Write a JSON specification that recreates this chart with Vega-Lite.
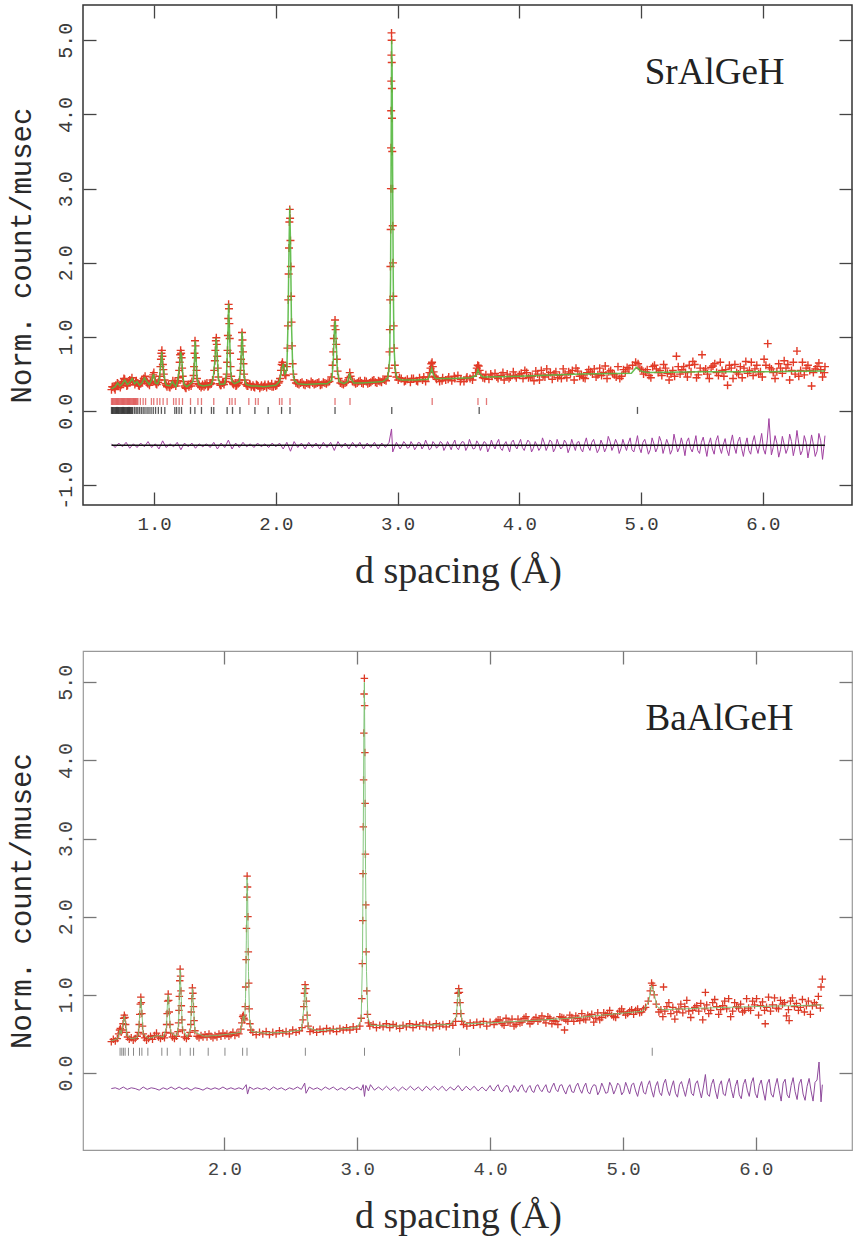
{
"$schema": "https://vega.github.io/schema/vega-lite/v6.json",
"autosize": {"type": "pad"},
"padding": {"left": 6, "top": 3, "right": 2, "bottom": 5},
"background": "white",
"bounds": "flush",
"spacing": 146,
"config": {
  "axis": {"grid": false, "domain": false, "labelFont": "Liberation Mono", "labelFontSize": 19, "labelColor": "#3a3a3a", "tickColor": "#444", "tickWidth": 1.3, "titleFontWeight": "normal", "titleColor": "#2a2a2a", "labelFlush": false, "labelOverlap": false}
},
"datasets": {
"so": [
{"d":0.650,"y":0.29},{"d":0.662,"y":0.33},{"d":0.674,"y":0.31},{"d":0.686,"y":0.35},{"d":0.698,"y":0.38},{"d":0.710,"y":0.34},{"d":0.722,"y":0.32},{"d":0.734,"y":0.37},{"d":0.746,"y":0.40},{"d":0.758,"y":0.43},{"d":0.770,"y":0.38},{"d":0.782,"y":0.35},{"d":0.794,"y":0.39},{"d":0.806,"y":0.41},{"d":0.818,"y":0.45},{"d":0.830,"y":0.40},{"d":0.842,"y":0.36},{"d":0.854,"y":0.41},{"d":0.866,"y":0.38},{"d":0.878,"y":0.34},{"d":0.890,"y":0.37},{"d":0.902,"y":0.40},{"d":0.914,"y":0.44},{"d":0.926,"y":0.47},{"d":0.938,"y":0.41},{"d":0.950,"y":0.37},{"d":0.962,"y":0.35},{"d":0.974,"y":0.40},{"d":0.986,"y":0.46},{"d":0.998,"y":0.52},{"d":1.010,"y":0.40},{"d":1.022,"y":0.36},{"d":1.034,"y":0.39},{"d":1.046,"y":0.47},
{"d":1.052,"y":0.60},{"d":1.056,"y":0.70},{"d":1.060,"y":0.78},{"d":1.064,"y":0.82},{"d":1.068,"y":0.74},{"d":1.072,"y":0.63},{"d":1.076,"y":0.56},{"d":1.080,"y":0.50},{"d":1.086,"y":0.42},
{"d":1.094,"y":0.37},{"d":1.106,"y":0.33},{"d":1.118,"y":0.36},{"d":1.130,"y":0.32},{"d":1.142,"y":0.35},{"d":1.154,"y":0.41},{"d":1.166,"y":0.37},{"d":1.178,"y":0.34},{"d":1.190,"y":0.38},{"d":1.200,"y":0.45},
{"d":1.206,"y":0.55},{"d":1.210,"y":0.66},{"d":1.214,"y":0.76},{"d":1.218,"y":0.82},{"d":1.222,"y":0.78},{"d":1.226,"y":0.72},{"d":1.230,"y":0.58},{"d":1.235,"y":0.47},{"d":1.240,"y":0.40},
{"d":1.250,"y":0.34},{"d":1.262,"y":0.31},{"d":1.274,"y":0.35},{"d":1.286,"y":0.33},{"d":1.298,"y":0.37},{"d":1.310,"y":0.40},
{"d":1.324,"y":0.48},{"d":1.328,"y":0.60},{"d":1.332,"y":0.78},{"d":1.336,"y":0.95},{"d":1.340,"y":0.88},{"d":1.344,"y":0.72},{"d":1.348,"y":0.55},{"d":1.352,"y":0.44},
{"d":1.362,"y":0.37},{"d":1.374,"y":0.34},{"d":1.386,"y":0.32},{"d":1.398,"y":0.36},{"d":1.410,"y":0.33},{"d":1.422,"y":0.35},{"d":1.434,"y":0.38},{"d":1.446,"y":0.34},{"d":1.458,"y":0.36},{"d":1.470,"y":0.37},{"d":1.480,"y":0.42},
{"d":1.494,"y":0.55},{"d":1.499,"y":0.68},{"d":1.503,"y":0.82},{"d":1.507,"y":0.95},{"d":1.511,"y":0.99},{"d":1.515,"y":0.90},{"d":1.519,"y":0.74},{"d":1.523,"y":0.58},{"d":1.528,"y":0.46},
{"d":1.538,"y":0.37},{"d":1.550,"y":0.35},{"d":1.562,"y":0.38},{"d":1.574,"y":0.36},{"d":1.586,"y":0.40},{"d":1.596,"y":0.50},
{"d":1.600,"y":0.66},{"d":1.603,"y":0.82},{"d":1.606,"y":1.02},{"d":1.609,"y":1.25},{"d":1.612,"y":1.44},{"d":1.615,"y":1.38},{"d":1.618,"y":1.18},{"d":1.621,"y":0.98},{"d":1.624,"y":0.78},{"d":1.628,"y":0.60},{"d":1.633,"y":0.47},
{"d":1.642,"y":0.39},{"d":1.654,"y":0.36},{"d":1.666,"y":0.38},{"d":1.678,"y":0.35},{"d":1.690,"y":0.37},{"d":1.702,"y":0.42},
{"d":1.710,"y":0.55},{"d":1.714,"y":0.70},{"d":1.718,"y":0.88},{"d":1.722,"y":1.06},{"d":1.726,"y":0.96},{"d":1.730,"y":0.80},{"d":1.734,"y":0.64},{"d":1.739,"y":0.50},{"d":1.745,"y":0.42},
{"d":1.756,"y":0.36},{"d":1.770,"y":0.34},{"d":1.784,"y":0.37},{"d":1.798,"y":0.33},{"d":1.812,"y":0.35},{"d":1.826,"y":0.32},{"d":1.840,"y":0.36},{"d":1.854,"y":0.34},{"d":1.868,"y":0.31},{"d":1.882,"y":0.35},{"d":1.896,"y":0.33},{"d":1.910,"y":0.36},{"d":1.924,"y":0.32},{"d":1.938,"y":0.35},{"d":1.952,"y":0.34},{"d":1.966,"y":0.37},{"d":1.980,"y":0.33},{"d":1.994,"y":0.36},{"d":2.008,"y":0.35},{"d":2.022,"y":0.38},{"d":2.034,"y":0.44},
{"d":2.042,"y":0.55},{"d":2.048,"y":0.63},{"d":2.054,"y":0.66},{"d":2.060,"y":0.62},{"d":2.066,"y":0.55},{"d":2.074,"y":0.49},{"d":2.082,"y":0.48},{"d":2.090,"y":0.60},
{"d":2.095,"y":0.85},{"d":2.099,"y":1.15},{"d":2.102,"y":1.50},{"d":2.105,"y":1.85},{"d":2.108,"y":2.20},{"d":2.111,"y":2.55},{"d":2.114,"y":2.72},{"d":2.117,"y":2.60},{"d":2.120,"y":2.30},{"d":2.123,"y":1.95},{"d":2.126,"y":1.55},{"d":2.129,"y":1.20},{"d":2.133,"y":0.88},{"d":2.138,"y":0.64},{"d":2.144,"y":0.50},{"d":2.152,"y":0.42},
{"d":2.165,"y":0.38},{"d":2.190,"y":0.36},{"d":2.215,"y":0.39},{"d":2.240,"y":0.35},{"d":2.265,"y":0.37},{"d":2.290,"y":0.40},{"d":2.315,"y":0.36},{"d":2.340,"y":0.38},{"d":2.365,"y":0.35},{"d":2.390,"y":0.39},{"d":2.415,"y":0.37},{"d":2.440,"y":0.40},{"d":2.455,"y":0.46},
{"d":2.465,"y":0.62},{"d":2.471,"y":0.80},{"d":2.476,"y":0.98},{"d":2.481,"y":1.15},{"d":2.486,"y":1.23},{"d":2.491,"y":1.10},{"d":2.496,"y":0.90},{"d":2.501,"y":0.70},{"d":2.507,"y":0.54},{"d":2.515,"y":0.44},
{"d":2.530,"y":0.38},{"d":2.555,"y":0.36},{"d":2.580,"y":0.39},{"d":2.598,"y":0.45},{"d":2.607,"y":0.52},{"d":2.614,"y":0.47},{"d":2.630,"y":0.40},{"d":2.655,"y":0.37},{"d":2.680,"y":0.40},{"d":2.705,"y":0.38},{"d":2.730,"y":0.41},{"d":2.755,"y":0.37},{"d":2.780,"y":0.39},{"d":2.805,"y":0.42},{"d":2.830,"y":0.38},{"d":2.855,"y":0.40},{"d":2.880,"y":0.43},{"d":2.905,"y":0.41},{"d":2.920,"y":0.47},
{"d":2.928,"y":0.58},{"d":2.933,"y":0.80},{"d":2.936,"y":1.10},{"d":2.939,"y":1.50},{"d":2.941,"y":1.95},{"d":2.943,"y":2.45},{"d":2.945,"y":3.00},{"d":2.946,"y":3.55},{"d":2.947,"y":4.05},{"d":2.948,"y":4.45},{"d":2.949,"y":4.80},{"d":2.950,"y":5.10},{"d":2.951,"y":5.00},{"d":2.952,"y":4.70},{"d":2.953,"y":4.35},{"d":2.954,"y":3.95},{"d":2.956,"y":3.50},{"d":2.958,"y":3.00},{"d":2.960,"y":2.50},{"d":2.962,"y":2.00},{"d":2.965,"y":1.55},{"d":2.968,"y":1.15},{"d":2.972,"y":0.85},{"d":2.977,"y":0.62},{"d":2.983,"y":0.52},{"d":2.990,"y":0.46},
{"d":3.005,"y":0.42},{"d":3.030,"y":0.44},{"d":3.055,"y":0.40},{"d":3.080,"y":0.43},{"d":3.105,"y":0.39},{"d":3.130,"y":0.44},{"d":3.155,"y":0.41},{"d":3.180,"y":0.45},{"d":3.205,"y":0.42},{"d":3.230,"y":0.40},{"d":3.250,"y":0.46},
{"d":3.262,"y":0.52},{"d":3.270,"y":0.58},{"d":3.277,"y":0.64},{"d":3.283,"y":0.66},{"d":3.289,"y":0.60},{"d":3.296,"y":0.53},{"d":3.305,"y":0.47},
{"d":3.320,"y":0.43},{"d":3.345,"y":0.40},{"d":3.370,"y":0.45},{"d":3.395,"y":0.42},{"d":3.420,"y":0.46},{"d":3.445,"y":0.41},{"d":3.470,"y":0.44},{"d":3.495,"y":0.48},{"d":3.520,"y":0.43},{"d":3.545,"y":0.40},{"d":3.570,"y":0.46},{"d":3.595,"y":0.44},{"d":3.620,"y":0.47},
{"d":3.640,"y":0.52},{"d":3.650,"y":0.58},{"d":3.658,"y":0.62},{"d":3.666,"y":0.61},{"d":3.674,"y":0.55},{"d":3.684,"y":0.50},
{"d":3.700,"y":0.45},{"d":3.725,"y":0.49},{"d":3.750,"y":0.43},{"d":3.775,"y":0.47},{"d":3.800,"y":0.51},{"d":3.825,"y":0.44},{"d":3.850,"y":0.48},{"d":3.875,"y":0.42},{"d":3.900,"y":0.50},{"d":3.925,"y":0.46},{"d":3.950,"y":0.53},{"d":3.975,"y":0.45},{"d":4.000,"y":0.49},
{"d":4.03,"y":0.44},{"d":4.06,"y":0.52},{"d":4.09,"y":0.47},{"d":4.12,"y":0.41},{"d":4.15,"y":0.50},{"d":4.18,"y":0.55},{"d":4.21,"y":0.46},{"d":4.24,"y":0.49},{"d":4.27,"y":0.43},{"d":4.30,"y":0.53},{"d":4.33,"y":0.48},{"d":4.36,"y":0.57},{"d":4.39,"y":0.45},{"d":4.42,"y":0.51},{"d":4.45,"y":0.42},{"d":4.48,"y":0.54},{"d":4.51,"y":0.49},{"d":4.54,"y":0.44},{"d":4.57,"y":0.56},{"d":4.60,"y":0.50},{"d":4.63,"y":0.46},{"d":4.66,"y":0.58},{"d":4.69,"y":0.52},{"d":4.72,"y":0.44},{"d":4.75,"y":0.55},{"d":4.78,"y":0.49},{"d":4.81,"y":0.60},{"d":4.84,"y":0.47},{"d":4.87,"y":0.53},{"d":4.90,"y":0.57},
{"d":4.93,"y":0.62},{"d":4.955,"y":0.66},{"d":4.975,"y":0.64},{"d":4.99,"y":0.58},
{"d":5.02,"y":0.50},{"d":5.05,"y":0.56},{"d":5.08,"y":0.45},{"d":5.11,"y":0.62},{"d":5.14,"y":0.52},{"d":5.17,"y":0.48},{"d":5.20,"y":0.58},{"d":5.23,"y":0.42},{"d":5.26,"y":0.55},{"d":5.29,"y":0.74},{"d":5.32,"y":0.50},{"d":5.35,"y":0.60},{"d":5.38,"y":0.46},{"d":5.41,"y":0.53},{"d":5.44,"y":0.63},{"d":5.47,"y":0.49},{"d":5.50,"y":0.76},{"d":5.53,"y":0.57},{"d":5.56,"y":0.44},{"d":5.59,"y":0.61},{"d":5.62,"y":0.52},{"d":5.65,"y":0.66},{"d":5.68,"y":0.47},{"d":5.71,"y":0.35},{"d":5.74,"y":0.58},{"d":5.77,"y":0.63},{"d":5.80,"y":0.50},{"d":5.83,"y":0.45},{"d":5.86,"y":0.67},{"d":5.89,"y":0.55},{"d":5.92,"y":0.48},{"d":5.95,"y":0.62},{"d":5.98,"y":0.53},{"d":6.01,"y":0.70},{"d":6.04,"y":0.91},{"d":6.07,"y":0.57},{"d":6.10,"y":0.44},{"d":6.13,"y":0.64},{"d":6.16,"y":0.51},{"d":6.19,"y":0.58},{"d":6.22,"y":0.42},{"d":6.25,"y":0.66},{"d":6.28,"y":0.81},{"d":6.31,"y":0.55},{"d":6.34,"y":0.49},{"d":6.37,"y":0.62},{"d":6.40,"y":0.34},{"d":6.43,"y":0.57},{"d":6.46,"y":0.65},{"d":6.49,"y":0.46},{"d":6.51,"y":0.60},
{"d":4.015,"y":0.51},{"d":4.075,"y":0.45},{"d":4.135,"y":0.54},{"d":4.195,"y":0.48},{"d":4.255,"y":0.52},{"d":4.315,"y":0.45},{"d":4.375,"y":0.50},{"d":4.435,"y":0.55},{"d":4.495,"y":0.47},{"d":4.555,"y":0.52},{"d":4.615,"y":0.57},{"d":4.675,"y":0.48},{"d":4.735,"y":0.53},{"d":4.795,"y":0.46},{"d":4.855,"y":0.56},{"d":5.035,"y":0.53},{"d":5.095,"y":0.60},{"d":5.155,"y":0.55},{"d":5.215,"y":0.51},{"d":5.275,"y":0.47},{"d":5.335,"y":0.56},{"d":5.395,"y":0.62},{"d":5.455,"y":0.45},{"d":5.515,"y":0.54},{"d":5.575,"y":0.59},{"d":5.635,"y":0.48},{"d":5.695,"y":0.56},{"d":5.755,"y":0.44},{"d":5.815,"y":0.60},{"d":5.875,"y":0.51},{"d":5.935,"y":0.57},{"d":5.995,"y":0.46},{"d":6.055,"y":0.59},{"d":6.115,"y":0.53},{"d":6.175,"y":0.68},{"d":6.235,"y":0.55},{"d":6.295,"y":0.47},{"d":6.355,"y":0.58},{"d":6.415,"y":0.52},{"d":6.475,"y":0.56},
{"d":3.015,"y":0.45},{"d":3.065,"y":0.41},{"d":3.115,"y":0.44},{"d":3.165,"y":0.40},{"d":3.215,"y":0.46},{"d":3.315,"y":0.45},{"d":3.365,"y":0.41},{"d":3.415,"y":0.43},{"d":3.465,"y":0.47},{"d":3.515,"y":0.40},{"d":3.565,"y":0.44},{"d":3.615,"y":0.42},{"d":3.715,"y":0.44},{"d":3.765,"y":0.50},{"d":3.815,"y":0.46},{"d":3.865,"y":0.52},{"d":3.915,"y":0.44},{"d":3.965,"y":0.48},
{"d":4.045,"y":0.55},{"d":4.105,"y":0.47},{"d":4.165,"y":0.42},{"d":4.225,"y":0.57},{"d":4.285,"y":0.50},{"d":4.345,"y":0.44},{"d":4.405,"y":0.53},{"d":4.465,"y":0.58},{"d":4.525,"y":0.45},{"d":4.585,"y":0.53},{"d":4.645,"y":0.49},{"d":4.705,"y":0.61},{"d":4.765,"y":0.51},{"d":4.825,"y":0.44},{"d":4.885,"y":0.59},{"d":5.005,"y":0.56},{"d":5.065,"y":0.48},{"d":5.125,"y":0.57},{"d":5.185,"y":0.63},{"d":5.245,"y":0.50},{"d":5.305,"y":0.60},{"d":5.365,"y":0.52},{"d":5.425,"y":0.67},{"d":5.485,"y":0.58},{"d":5.545,"y":0.50},{"d":5.605,"y":0.64},{"d":5.665,"y":0.55},{"d":5.725,"y":0.62},{"d":5.785,"y":0.52},{"d":5.845,"y":0.58},{"d":5.905,"y":0.66},{"d":5.965,"y":0.50},{"d":6.025,"y":0.62},{"d":6.085,"y":0.52},{"d":6.145,"y":0.58},{"d":6.205,"y":0.63},{"d":6.265,"y":0.50},{"d":6.325,"y":0.66},{"d":6.385,"y":0.55},{"d":6.445,"y":0.60},{"d":6.505,"y":0.52},
{"d":0.656,"y":0.33},{"d":0.680,"y":0.29},{"d":0.704,"y":0.37},{"d":0.728,"y":0.35},{"d":0.752,"y":0.44},{"d":0.776,"y":0.34},{"d":0.800,"y":0.42},{"d":0.824,"y":0.40},{"d":0.848,"y":0.39},{"d":0.872,"y":0.35},{"d":0.896,"y":0.41},{"d":0.920,"y":0.43},{"d":0.944,"y":0.38},{"d":0.968,"y":0.39},{"d":0.992,"y":0.49},{"d":1.016,"y":0.37},{"d":1.040,"y":0.42},{"d":1.100,"y":0.35},{"d":1.124,"y":0.33},{"d":1.148,"y":0.37},{"d":1.172,"y":0.39},{"d":1.196,"y":0.41},{"d":1.256,"y":0.32},{"d":1.280,"y":0.36},{"d":1.304,"y":0.34},{"d":1.370,"y":0.36},{"d":1.394,"y":0.34},{"d":1.418,"y":0.37},{"d":1.442,"y":0.33},{"d":1.466,"y":0.38},{"d":1.544,"y":0.35},{"d":1.568,"y":0.39},{"d":1.592,"y":0.44},{"d":1.648,"y":0.37},{"d":1.672,"y":0.34},{"d":1.696,"y":0.39},{"d":1.764,"y":0.34},{"d":1.788,"y":0.36},{"d":1.818,"y":0.33},{"d":1.848,"y":0.35},{"d":1.878,"y":0.33},{"d":1.908,"y":0.34},{"d":1.938,"y":0.36},{"d":1.968,"y":0.33},{"d":1.998,"y":0.34},{"d":2.028,"y":0.40},{"d":2.178,"y":0.37},{"d":2.203,"y":0.38},{"d":2.228,"y":0.36},{"d":2.253,"y":0.38},{"d":2.278,"y":0.36},{"d":2.303,"y":0.38},{"d":2.328,"y":0.37},{"d":2.353,"y":0.39},{"d":2.378,"y":0.36},{"d":2.403,"y":0.38},{"d":2.428,"y":0.39},{"d":2.543,"y":0.37},{"d":2.568,"y":0.38},{"d":2.643,"y":0.39},{"d":2.668,"y":0.38},{"d":2.693,"y":0.41},{"d":2.718,"y":0.37},{"d":2.743,"y":0.40},{"d":2.768,"y":0.38},{"d":2.793,"y":0.41},{"d":2.818,"y":0.39},{"d":2.843,"y":0.41},{"d":2.868,"y":0.39},{"d":2.893,"y":0.42}
],
"sc": [
{"d":0.650,"y":0.30},{"d":0.680,"y":0.33},{"d":0.700,"y":0.38},{"d":0.720,"y":0.34},{"d":0.740,"y":0.37},{"d":0.760,"y":0.42},{"d":0.780,"y":0.36},{"d":0.800,"y":0.39},{"d":0.820,"y":0.44},{"d":0.840,"y":0.37},{"d":0.860,"y":0.40},{"d":0.880,"y":0.35},{"d":0.900,"y":0.38},{"d":0.920,"y":0.45},{"d":0.940,"y":0.40},{"d":0.960,"y":0.36},{"d":0.980,"y":0.42},{"d":0.995,"y":0.50},{"d":1.010,"y":0.38},{"d":1.030,"y":0.37},{"d":1.045,"y":0.45},{"d":1.055,"y":0.65},{"d":1.063,"y":0.80},{"d":1.070,"y":0.62},{"d":1.078,"y":0.55},{"d":1.088,"y":0.40},{"d":1.100,"y":0.35},{"d":1.130,"y":0.34},{"d":1.150,"y":0.40},{"d":1.165,"y":0.36},{"d":1.180,"y":0.33},{"d":1.195,"y":0.42},{"d":1.208,"y":0.60},{"d":1.218,"y":0.80},{"d":1.226,"y":0.74},{"d":1.235,"y":0.50},{"d":1.245,"y":0.36},{"d":1.270,"y":0.33},{"d":1.300,"y":0.37},{"d":1.320,"y":0.40},{"d":1.330,"y":0.62},{"d":1.337,"y":0.95},{"d":1.344,"y":0.75},{"d":1.352,"y":0.45},{"d":1.365,"y":0.36},{"d":1.400,"y":0.34},{"d":1.440,"y":0.35},{"d":1.470,"y":0.36},{"d":1.485,"y":0.44},{"d":1.500,"y":0.70},{"d":1.510,"y":0.98},{"d":1.518,"y":0.78},{"d":1.527,"y":0.45},{"d":1.540,"y":0.36},{"d":1.580,"y":0.37},{"d":1.595,"y":0.50},{"d":1.605,"y":0.95},{"d":1.612,"y":1.45},{"d":1.619,"y":1.10},{"d":1.628,"y":0.55},{"d":1.640,"y":0.40},{"d":1.660,"y":0.37},{"d":1.700,"y":0.40},{"d":1.712,"y":0.62},{"d":1.722,"y":1.07},{"d":1.730,"y":0.80},{"d":1.740,"y":0.45},{"d":1.755,"y":0.36},{"d":1.800,"y":0.34},{"d":1.850,"y":0.34},{"d":1.900,"y":0.33},{"d":1.950,"y":0.34},{"d":2.000,"y":0.35},{"d":2.030,"y":0.40},{"d":2.050,"y":0.58},{"d":2.062,"y":0.64},{"d":2.075,"y":0.50},{"d":2.090,"y":0.55},{"d":2.100,"y":1.20},{"d":2.108,"y":2.20},{"d":2.114,"y":2.75},{"d":2.120,"y":2.30},{"d":2.128,"y":1.20},{"d":2.138,"y":0.60},{"d":2.150,"y":0.42},{"d":2.180,"y":0.37},{"d":2.250,"y":0.36},{"d":2.350,"y":0.37},{"d":2.420,"y":0.37},{"d":2.460,"y":0.42},{"d":2.472,"y":0.70},{"d":2.482,"y":1.15},{"d":2.488,"y":1.22},{"d":2.495,"y":0.95},{"d":2.505,"y":0.55},{"d":2.520,"y":0.40},{"d":2.560,"y":0.37},{"d":2.590,"y":0.40},{"d":2.605,"y":0.50},{"d":2.615,"y":0.44},{"d":2.640,"y":0.38},{"d":2.700,"y":0.38},{"d":2.800,"y":0.39},{"d":2.880,"y":0.40},{"d":2.920,"y":0.45},{"d":2.935,"y":0.70},{"d":2.942,"y":1.80},{"d":2.947,"y":3.60},{"d":2.951,"y":5.00},{"d":2.955,"y":4.60},{"d":2.959,"y":3.20},{"d":2.964,"y":1.80},{"d":2.970,"y":0.90},{"d":2.980,"y":0.55},{"d":2.995,"y":0.45},{"d":3.030,"y":0.42},{"d":3.150,"y":0.42},{"d":3.250,"y":0.43},{"d":3.270,"y":0.52},{"d":3.280,"y":0.58},{"d":3.292,"y":0.50},{"d":3.310,"y":0.44},{"d":3.450,"y":0.44},{"d":3.600,"y":0.45},{"d":3.645,"y":0.48},{"d":3.660,"y":0.56},{"d":3.675,"y":0.50},{"d":3.700,"y":0.46},{"d":4.000,"y":0.47},{"d":4.500,"y":0.50},{"d":4.920,"y":0.51},{"d":4.960,"y":0.59},{"d":5.000,"y":0.54},{"d":5.050,"y":0.52},{"d":5.500,"y":0.53},{"d":6.000,"y":0.53},{"d":6.510,"y":0.54}
],
"sd": [
{"d":0.65,"y":-0.44},{"d":0.68,"y":-0.49},{"d":0.71,"y":-0.43},{"d":0.74,"y":-0.48},{"d":0.77,"y":-0.42},{"d":0.80,"y":-0.50},{"d":0.83,"y":-0.44},{"d":0.86,"y":-0.49},{"d":0.89,"y":-0.43},{"d":0.92,"y":-0.48},{"d":0.95,"y":-0.41},{"d":0.98,"y":-0.49},{"d":1.01,"y":-0.44},{"d":1.04,"y":-0.51},{"d":1.07,"y":-0.40},{"d":1.10,"y":-0.49},{"d":1.13,"y":-0.44},{"d":1.16,"y":-0.48},{"d":1.19,"y":-0.42},{"d":1.22,"y":-0.52},{"d":1.25,"y":-0.43},{"d":1.28,"y":-0.48},{"d":1.31,"y":-0.43},{"d":1.34,"y":-0.50},{"d":1.37,"y":-0.44},{"d":1.40,"y":-0.48},{"d":1.43,"y":-0.44},{"d":1.46,"y":-0.49},{"d":1.49,"y":-0.42},{"d":1.52,"y":-0.51},{"d":1.55,"y":-0.43},{"d":1.58,"y":-0.49},{"d":1.61,"y":-0.39},{"d":1.64,"y":-0.51},{"d":1.67,"y":-0.43},{"d":1.70,"y":-0.49},{"d":1.73,"y":-0.42},{"d":1.76,"y":-0.48},{"d":1.79,"y":-0.44},{"d":1.82,"y":-0.49},{"d":1.85,"y":-0.43},{"d":1.88,"y":-0.48},{"d":1.91,"y":-0.44},{"d":1.94,"y":-0.49},{"d":1.97,"y":-0.43},{"d":2.00,"y":-0.48},{"d":2.03,"y":-0.43},{"d":2.06,"y":-0.51},{"d":2.09,"y":-0.42},{"d":2.12,"y":-0.54},{"d":2.15,"y":-0.41},{"d":2.18,"y":-0.49},{"d":2.21,"y":-0.43},{"d":2.24,"y":-0.51},{"d":2.27,"y":-0.42},{"d":2.30,"y":-0.49},{"d":2.33,"y":-0.43},{"d":2.36,"y":-0.51},{"d":2.39,"y":-0.42},{"d":2.42,"y":-0.49},{"d":2.45,"y":-0.42},{"d":2.48,"y":-0.53},{"d":2.51,"y":-0.41},{"d":2.54,"y":-0.49},{"d":2.57,"y":-0.43},{"d":2.60,"y":-0.51},{"d":2.63,"y":-0.42},{"d":2.66,"y":-0.49},{"d":2.69,"y":-0.42},{"d":2.72,"y":-0.51},{"d":2.75,"y":-0.43},{"d":2.78,"y":-0.49},{"d":2.81,"y":-0.42},{"d":2.84,"y":-0.51},{"d":2.87,"y":-0.43},{"d":2.90,"y":-0.49},{"d":2.93,"y":-0.42},{"d":2.95,"y":-0.24},{"d":2.96,"y":-0.55},{"d":2.99,"y":-0.42},{"d":3.02,"y":-0.51},
{"d":3.05,"y":-0.41},{"d":3.08,"y":-0.50},{"d":3.11,"y":-0.41},{"d":3.14,"y":-0.52},{"d":3.17,"y":-0.42},{"d":3.20,"y":-0.51},{"d":3.23,"y":-0.39},{"d":3.26,"y":-0.52},{"d":3.29,"y":-0.41},{"d":3.32,"y":-0.50},{"d":3.35,"y":-0.41},{"d":3.38,"y":-0.53},{"d":3.41,"y":-0.41},{"d":3.44,"y":-0.52},{"d":3.47,"y":-0.39},{"d":3.50,"y":-0.52},{"d":3.53,"y":-0.41},{"d":3.56,"y":-0.53},{"d":3.59,"y":-0.38},{"d":3.62,"y":-0.51},{"d":3.65,"y":-0.40},{"d":3.68,"y":-0.53},{"d":3.71,"y":-0.41},{"d":3.74,"y":-0.55},{"d":3.77,"y":-0.39},{"d":3.80,"y":-0.51},{"d":3.83,"y":-0.38},{"d":3.86,"y":-0.53},{"d":3.89,"y":-0.41},{"d":3.92,"y":-0.55},{"d":3.95,"y":-0.39},{"d":3.98,"y":-0.51},{"d":4.01,"y":-0.38},{"d":4.04,"y":-0.53},{"d":4.07,"y":-0.39},{"d":4.10,"y":-0.55},{"d":4.13,"y":-0.41},{"d":4.16,"y":-0.53},{"d":4.19,"y":-0.36},{"d":4.22,"y":-0.53},{"d":4.25,"y":-0.39},{"d":4.28,"y":-0.55},{"d":4.31,"y":-0.38},{"d":4.34,"y":-0.51},{"d":4.37,"y":-0.39},{"d":4.40,"y":-0.56},{"d":4.43,"y":-0.38},{"d":4.46,"y":-0.53},{"d":4.49,"y":-0.41},{"d":4.52,"y":-0.55},{"d":4.55,"y":-0.36},{"d":4.58,"y":-0.53},{"d":4.61,"y":-0.38},{"d":4.64,"y":-0.56},{"d":4.67,"y":-0.39},{"d":4.70,"y":-0.55},{"d":4.73,"y":-0.34},{"d":4.76,"y":-0.53},{"d":4.79,"y":-0.38},{"d":4.82,"y":-0.57},{"d":4.85,"y":-0.38},{"d":4.88,"y":-0.53},{"d":4.91,"y":-0.36},{"d":4.94,"y":-0.55},{"d":4.97,"y":-0.33},{"d":5.00,"y":-0.56},{"d":5.03,"y":-0.38},{"d":5.06,"y":-0.58},{"d":5.09,"y":-0.36},{"d":5.12,"y":-0.55},{"d":5.15,"y":-0.34},{"d":5.18,"y":-0.57},{"d":5.21,"y":-0.38},{"d":5.24,"y":-0.58},{"d":5.27,"y":-0.31},{"d":5.30,"y":-0.55},{"d":5.33,"y":-0.36},{"d":5.36,"y":-0.60},{"d":5.39,"y":-0.36},{"d":5.42,"y":-0.55},{"d":5.45,"y":-0.33},{"d":5.48,"y":-0.57},{"d":5.51,"y":-0.35},{"d":5.54,"y":-0.61},{"d":5.57,"y":-0.36},{"d":5.60,"y":-0.58},{"d":5.63,"y":-0.33},{"d":5.66,"y":-0.57},{"d":5.69,"y":-0.37},{"d":5.72,"y":-0.60},{"d":5.75,"y":-0.32},{"d":5.78,"y":-0.57},{"d":5.81,"y":-0.35},{"d":5.84,"y":-0.61},{"d":5.87,"y":-0.36},{"d":5.90,"y":-0.58},{"d":5.93,"y":-0.33},{"d":5.96,"y":-0.57},{"d":5.99,"y":-0.30},{"d":6.02,"y":-0.58},{"d":6.05,"y":-0.10},{"d":6.07,"y":-0.59},{"d":6.10,"y":-0.33},{"d":6.13,"y":-0.62},{"d":6.16,"y":-0.34},{"d":6.19,"y":-0.57},{"d":6.22,"y":-0.31},{"d":6.25,"y":-0.60},{"d":6.28,"y":-0.26},{"d":6.31,"y":-0.59},{"d":6.34,"y":-0.33},{"d":6.37,"y":-0.63},{"d":6.40,"y":-0.32},{"d":6.43,"y":-0.61},{"d":6.46,"y":-0.30},{"d":6.49,"y":-0.65},{"d":6.51,"y":-0.33},
{"d":3.035,"y":-0.47},{"d":3.065,"y":-0.44},{"d":3.095,"y":-0.49},{"d":3.125,"y":-0.45},{"d":3.155,"y":-0.48},{"d":3.185,"y":-0.43},{"d":3.215,"y":-0.47},{"d":3.245,"y":-0.45},{"d":3.275,"y":-0.50},{"d":3.305,"y":-0.44},{"d":3.335,"y":-0.47},{"d":3.365,"y":-0.43},{"d":3.395,"y":-0.48},{"d":3.425,"y":-0.46},{"d":3.455,"y":-0.44},{"d":3.485,"y":-0.49},{"d":3.515,"y":-0.45},{"d":3.545,"y":-0.42},{"d":3.575,"y":-0.48},{"d":3.605,"y":-0.45},{"d":3.635,"y":-0.50},{"d":3.665,"y":-0.44},{"d":3.695,"y":-0.47},{"d":3.725,"y":-0.43},{"d":3.755,"y":-0.49},{"d":3.785,"y":-0.46},{"d":3.815,"y":-0.43},{"d":3.845,"y":-0.50},{"d":3.875,"y":-0.45},{"d":3.905,"y":-0.48},{"d":3.935,"y":-0.42},{"d":3.965,"y":-0.47},{"d":3.995,"y":-0.44},{"d":4.025,"y":-0.49},{"d":4.055,"y":-0.45},{"d":4.085,"y":-0.42},{"d":4.115,"y":-0.50},{"d":4.145,"y":-0.46},{"d":4.175,"y":-0.49},{"d":4.205,"y":-0.43},{"d":4.235,"y":-0.47},{"d":4.265,"y":-0.41},{"d":4.295,"y":-0.50},{"d":4.325,"y":-0.45},{"d":4.355,"y":-0.48},{"d":4.385,"y":-0.43},{"d":4.415,"y":-0.49},{"d":4.445,"y":-0.46},{"d":4.475,"y":-0.42},{"d":4.505,"y":-0.51},{"d":4.535,"y":-0.44},{"d":4.565,"y":-0.48},{"d":4.595,"y":-0.42},{"d":4.625,"y":-0.47},{"d":4.655,"y":-0.51},{"d":4.685,"y":-0.45},{"d":4.715,"y":-0.49},{"d":4.745,"y":-0.41},{"d":4.775,"y":-0.47},{"d":4.805,"y":-0.44},{"d":4.835,"y":-0.50},{"d":4.865,"y":-0.46},{"d":4.895,"y":-0.43},{"d":4.925,"y":-0.52},{"d":4.955,"y":-0.45},{"d":4.985,"y":-0.49},{"d":5.015,"y":-0.42},{"d":5.045,"y":-0.47},{"d":5.075,"y":-0.52},{"d":5.105,"y":-0.44},{"d":5.135,"y":-0.49},{"d":5.165,"y":-0.41},{"d":5.195,"y":-0.48},{"d":5.225,"y":-0.45},{"d":5.255,"y":-0.52},{"d":5.285,"y":-0.43},{"d":5.315,"y":-0.49},{"d":5.345,"y":-0.46},{"d":5.375,"y":-0.41},{"d":5.405,"y":-0.50},{"d":5.435,"y":-0.45},{"d":5.465,"y":-0.53},{"d":5.495,"y":-0.42},{"d":5.525,"y":-0.48},{"d":5.555,"y":-0.44},{"d":5.585,"y":-0.51},{"d":5.615,"y":-0.40},{"d":5.645,"y":-0.49},{"d":5.675,"y":-0.45},{"d":5.705,"y":-0.52},{"d":5.735,"y":-0.43},{"d":5.765,"y":-0.48},{"d":5.795,"y":-0.41},{"d":5.825,"y":-0.50},{"d":5.855,"y":-0.46},{"d":5.885,"y":-0.53},{"d":5.915,"y":-0.42},{"d":5.945,"y":-0.48},{"d":5.975,"y":-0.44},{"d":6.005,"y":-0.51},{"d":6.035,"y":-0.40},{"d":6.085,"y":-0.49},{"d":6.115,"y":-0.43},{"d":6.145,"y":-0.52},{"d":6.175,"y":-0.45},{"d":6.205,"y":-0.50},{"d":6.235,"y":-0.41},{"d":6.265,"y":-0.48},{"d":6.295,"y":-0.44},{"d":6.325,"y":-0.53},{"d":6.355,"y":-0.42},{"d":6.385,"y":-0.49},{"d":6.415,"y":-0.45},{"d":6.445,"y":-0.54},{"d":6.475,"y":-0.40},{"d":6.500,"y":-0.50}
],
"st1": [
{"d":0.650},{"d":0.657},{"d":0.664},{"d":0.671},{"d":0.678},{"d":0.685},{"d":0.692},{"d":0.699},{"d":0.706},{"d":0.713},{"d":0.720},{"d":0.727},{"d":0.734},{"d":0.741},{"d":0.748},{"d":0.755},{"d":0.762},{"d":0.769},{"d":0.776},{"d":0.783},{"d":0.790},{"d":0.797},{"d":0.804},{"d":0.811},{"d":0.818},{"d":0.825},{"d":0.832},{"d":0.839},{"d":0.846},{"d":0.853},{"d":0.860},{"d":0.867},
{"d":0.887},{"d":0.910},{"d":0.930},{"d":0.978},{"d":0.997},{"d":1.025},{"d":1.047},{"d":1.074},{"d":1.107},{"d":1.160},{"d":1.180},{"d":1.206},{"d":1.233},{"d":1.299},{"d":1.360},{"d":1.389},{"d":1.490},{"d":1.620},{"d":1.640},{"d":1.666},{"d":1.778},{"d":1.833},{"d":1.855},{"d":2.030},{"d":2.050},{"d":2.116},{"d":2.486},{"d":2.609},{"d":3.284},{"d":3.660},{"d":3.730}
],
"st2": [
{"d":0.650},{"d":0.657},{"d":0.664},{"d":0.671},{"d":0.678},{"d":0.685},{"d":0.692},{"d":0.699},{"d":0.706},{"d":0.713},{"d":0.720},{"d":0.727},{"d":0.734},{"d":0.741},{"d":0.748},{"d":0.755},{"d":0.762},{"d":0.769},{"d":0.776},{"d":0.783},{"d":0.790},{"d":0.797},{"d":0.804},{"d":0.811},{"d":0.818},{"d":0.825},
{"d":0.840},{"d":0.853},{"d":0.866},{"d":0.880},{"d":0.895},{"d":0.910},{"d":0.925},{"d":0.942},{"d":0.958},{"d":0.975},{"d":0.993},{"d":1.012},{"d":1.035},{"d":1.060},{"d":1.088},{"d":1.170},{"d":1.185},{"d":1.205},{"d":1.225},{"d":1.299},{"d":1.335},{"d":1.389},{"d":1.471},{"d":1.490},{"d":1.600},{"d":1.644},{"d":1.705},{"d":1.828},{"d":1.937},{"d":2.047},{"d":2.116},{"d":2.486},{"d":2.952},{"d":3.670},{"d":4.970}
],
"bo": [
{"d":1.150,"y":0.40},{"d":1.165,"y":0.43},{"d":1.180,"y":0.41},{"d":1.195,"y":0.44},{"d":1.205,"y":0.50},{"d":1.212,"y":0.55},{"d":1.218,"y":0.57},{"d":1.224,"y":0.52},
{"d":1.232,"y":0.55},{"d":1.238,"y":0.63},{"d":1.243,"y":0.70},{"d":1.248,"y":0.74},{"d":1.253,"y":0.71},{"d":1.258,"y":0.62},{"d":1.264,"y":0.52},{"d":1.272,"y":0.46},
{"d":1.285,"y":0.43},{"d":1.300,"y":0.45},{"d":1.315,"y":0.42},{"d":1.330,"y":0.44},{"d":1.345,"y":0.47},{"d":1.355,"y":0.52},
{"d":1.360,"y":0.62},{"d":1.364,"y":0.75},{"d":1.368,"y":0.88},{"d":1.372,"y":0.97},{"d":1.376,"y":0.90},{"d":1.380,"y":0.76},{"d":1.385,"y":0.60},{"d":1.391,"y":0.50},
{"d":1.400,"y":0.45},{"d":1.415,"y":0.42},{"d":1.430,"y":0.44},{"d":1.445,"y":0.47},{"d":1.460,"y":0.43},{"d":1.475,"y":0.48},{"d":1.490,"y":0.51},{"d":1.505,"y":0.46},{"d":1.520,"y":0.44},{"d":1.535,"y":0.47},{"d":1.550,"y":0.45},{"d":1.562,"y":0.52},
{"d":1.566,"y":0.62},{"d":1.570,"y":0.76},{"d":1.574,"y":0.92},{"d":1.578,"y":1.01},{"d":1.582,"y":0.93},{"d":1.586,"y":0.78},{"d":1.591,"y":0.62},{"d":1.597,"y":0.51},
{"d":1.610,"y":0.46},{"d":1.625,"y":0.44},{"d":1.640,"y":0.47},{"d":1.652,"y":0.53},
{"d":1.656,"y":0.64},{"d":1.659,"y":0.80},{"d":1.662,"y":0.98},{"d":1.665,"y":1.18},{"d":1.668,"y":1.33},{"d":1.671,"y":1.24},{"d":1.674,"y":1.05},{"d":1.677,"y":0.86},{"d":1.681,"y":0.68},{"d":1.686,"y":0.55},
{"d":1.700,"y":0.46},{"d":1.715,"y":0.44},{"d":1.730,"y":0.47},{"d":1.742,"y":0.52},
{"d":1.748,"y":0.62},{"d":1.752,"y":0.78},{"d":1.756,"y":0.95},{"d":1.760,"y":1.09},{"d":1.764,"y":1.02},{"d":1.768,"y":0.85},{"d":1.773,"y":0.67},{"d":1.779,"y":0.54},
{"d":1.795,"y":0.47},{"d":1.810,"y":0.45},{"d":1.825,"y":0.48},{"d":1.840,"y":0.46},{"d":1.855,"y":0.49},{"d":1.870,"y":0.46},{"d":1.885,"y":0.50},{"d":1.900,"y":0.47},{"d":1.915,"y":0.45},{"d":1.930,"y":0.48},{"d":1.945,"y":0.46},{"d":1.960,"y":0.50},{"d":1.975,"y":0.47},{"d":1.990,"y":0.51},{"d":2.005,"y":0.48},{"d":2.020,"y":0.50},{"d":2.035,"y":0.47},{"d":2.050,"y":0.49},{"d":2.065,"y":0.52},{"d":2.080,"y":0.48},{"d":2.095,"y":0.51},{"d":2.110,"y":0.50},{"d":2.125,"y":0.56},
{"d":2.132,"y":0.64},{"d":2.138,"y":0.72},{"d":2.143,"y":0.74},{"d":2.148,"y":0.70},{"d":2.153,"y":0.68},{"d":2.158,"y":0.85},{"d":2.161,"y":1.10},{"d":2.164,"y":1.45},{"d":2.167,"y":1.85},{"d":2.170,"y":2.25},{"d":2.172,"y":2.52},{"d":2.175,"y":2.38},{"d":2.178,"y":2.00},{"d":2.181,"y":1.55},{"d":2.184,"y":1.15},{"d":2.188,"y":0.82},{"d":2.193,"y":0.63},{"d":2.200,"y":0.55},
{"d":2.215,"y":0.52},{"d":2.240,"y":0.49},{"d":2.265,"y":0.52},{"d":2.290,"y":0.50},{"d":2.315,"y":0.53},{"d":2.340,"y":0.49},{"d":2.365,"y":0.52},{"d":2.390,"y":0.50},{"d":2.415,"y":0.54},{"d":2.440,"y":0.51},{"d":2.465,"y":0.53},{"d":2.490,"y":0.50},{"d":2.515,"y":0.55},{"d":2.540,"y":0.52},{"d":2.565,"y":0.54},{"d":2.585,"y":0.58},
{"d":2.592,"y":0.68},{"d":2.598,"y":0.85},{"d":2.603,"y":1.02},{"d":2.608,"y":1.13},{"d":2.613,"y":1.08},{"d":2.618,"y":0.92},{"d":2.624,"y":0.74},{"d":2.631,"y":0.60},
{"d":2.645,"y":0.53},{"d":2.670,"y":0.55},{"d":2.695,"y":0.52},{"d":2.720,"y":0.56},{"d":2.745,"y":0.53},{"d":2.770,"y":0.57},{"d":2.795,"y":0.54},{"d":2.820,"y":0.56},{"d":2.845,"y":0.53},{"d":2.870,"y":0.57},{"d":2.895,"y":0.55},{"d":2.920,"y":0.58},{"d":2.945,"y":0.55},{"d":2.970,"y":0.59},{"d":2.995,"y":0.56},{"d":3.020,"y":0.60},
{"d":3.030,"y":0.70},{"d":3.035,"y":0.95},{"d":3.039,"y":1.40},{"d":3.042,"y":1.95},{"d":3.044,"y":2.55},{"d":3.046,"y":3.15},{"d":3.048,"y":3.75},{"d":3.050,"y":4.35},{"d":3.052,"y":4.85},{"d":3.054,"y":5.05},{"d":3.056,"y":4.70},{"d":3.058,"y":4.10},{"d":3.060,"y":3.45},{"d":3.062,"y":2.80},{"d":3.065,"y":2.15},{"d":3.068,"y":1.55},{"d":3.072,"y":1.05},{"d":3.077,"y":0.75},{"d":3.084,"y":0.64},
{"d":3.095,"y":0.60},{"d":3.120,"y":0.62},{"d":3.145,"y":0.58},{"d":3.170,"y":0.61},{"d":3.195,"y":0.59},{"d":3.220,"y":0.63},{"d":3.245,"y":0.58},{"d":3.270,"y":0.62},{"d":3.295,"y":0.60},{"d":3.320,"y":0.57},{"d":3.345,"y":0.61},{"d":3.370,"y":0.59},{"d":3.395,"y":0.63},{"d":3.420,"y":0.58},{"d":3.445,"y":0.62},{"d":3.470,"y":0.60},{"d":3.495,"y":0.64},{"d":3.520,"y":0.59},{"d":3.545,"y":0.62},{"d":3.570,"y":0.58},{"d":3.595,"y":0.63},{"d":3.620,"y":0.60},{"d":3.645,"y":0.62},{"d":3.670,"y":0.59},{"d":3.695,"y":0.63},{"d":3.720,"y":0.61},{"d":3.740,"y":0.66},
{"d":3.748,"y":0.76},{"d":3.754,"y":0.90},{"d":3.759,"y":1.02},{"d":3.764,"y":1.08},{"d":3.769,"y":1.03},{"d":3.774,"y":0.90},{"d":3.780,"y":0.76},{"d":3.787,"y":0.66},
{"d":3.800,"y":0.62},{"d":3.825,"y":0.60},{"d":3.850,"y":0.64},{"d":3.875,"y":0.61},{"d":3.900,"y":0.65},{"d":3.925,"y":0.62},{"d":3.950,"y":0.66},{"d":3.975,"y":0.60},{"d":4.000,"y":0.65},
{"d":4.03,"y":0.62},{"d":4.06,"y":0.68},{"d":4.09,"y":0.63},{"d":4.12,"y":0.70},{"d":4.15,"y":0.64},{"d":4.18,"y":0.60},{"d":4.21,"y":0.69},{"d":4.24,"y":0.65},{"d":4.27,"y":0.72},{"d":4.30,"y":0.63},{"d":4.33,"y":0.68},{"d":4.36,"y":0.66},{"d":4.39,"y":0.73},{"d":4.42,"y":0.64},{"d":4.45,"y":0.70},{"d":4.48,"y":0.67},{"d":4.51,"y":0.62},{"d":4.54,"y":0.71},{"d":4.57,"y":0.68},{"d":4.60,"y":0.74},{"d":4.63,"y":0.66},{"d":4.66,"y":0.70},{"d":4.69,"y":0.76},{"d":4.72,"y":0.68},{"d":4.75,"y":0.72},{"d":4.78,"y":0.65},{"d":4.81,"y":0.77},{"d":4.84,"y":0.71},{"d":4.87,"y":0.74},{"d":4.90,"y":0.80},{"d":4.93,"y":0.72},{"d":4.96,"y":0.76},{"d":4.99,"y":0.82},{"d":5.02,"y":0.74},{"d":5.05,"y":0.79},{"d":5.08,"y":0.75},{"d":5.11,"y":0.82},{"d":5.14,"y":0.78},{"d":5.17,"y":0.84},
{"d":5.190,"y":0.92},{"d":5.205,"y":1.05},{"d":5.215,"y":1.15},{"d":5.225,"y":1.12},{"d":5.235,"y":1.00},{"d":5.250,"y":0.88},
{"d":5.27,"y":0.78},{"d":5.30,"y":0.72},{"d":5.33,"y":0.85},{"d":5.36,"y":0.76},{"d":5.39,"y":0.69},{"d":5.42,"y":0.82},{"d":5.45,"y":0.77},{"d":5.48,"y":0.93},{"d":5.51,"y":0.71},{"d":5.54,"y":0.84},{"d":5.57,"y":0.79},{"d":5.60,"y":0.68},{"d":5.63,"y":0.87},{"d":5.66,"y":0.80},{"d":5.69,"y":0.94},{"d":5.72,"y":0.75},{"d":5.75,"y":0.86},{"d":5.78,"y":0.82},{"d":5.81,"y":0.72},{"d":5.84,"y":0.90},{"d":5.87,"y":0.83},{"d":5.90,"y":0.78},{"d":5.93,"y":0.95},{"d":5.96,"y":0.80},{"d":5.99,"y":0.87},{"d":6.02,"y":0.74},{"d":6.05,"y":0.91},{"d":6.08,"y":0.84},{"d":6.11,"y":0.79},{"d":6.14,"y":0.96},{"d":6.17,"y":0.82},{"d":6.20,"y":0.88},{"d":6.23,"y":0.73},{"d":6.26,"y":0.92},{"d":6.29,"y":0.85},{"d":6.32,"y":0.80},{"d":6.35,"y":0.94},{"d":6.38,"y":0.86},{"d":6.41,"y":0.75},{"d":6.44,"y":0.90},{"d":6.47,"y":0.98},{"d":6.49,"y":1.10},{"d":6.50,"y":1.20},
{"d":4.045,"y":0.66},{"d":4.105,"y":0.61},{"d":4.165,"y":0.69},{"d":4.225,"y":0.64},{"d":4.285,"y":0.67},{"d":4.345,"y":0.71},{"d":4.405,"y":0.68},{"d":4.465,"y":0.63},{"d":4.525,"y":0.72},{"d":4.560,"y":0.55},{"d":4.585,"y":0.66},{"d":4.645,"y":0.73},{"d":4.705,"y":0.69},{"d":4.765,"y":0.75},{"d":4.825,"y":0.68},{"d":4.885,"y":0.76},{"d":4.945,"y":0.71},{"d":5.005,"y":0.78},{"d":5.065,"y":0.81},{"d":5.125,"y":0.77},{"d":5.285,"y":0.81},{"d":5.305,"y":1.10},{"d":5.345,"y":0.90},{"d":5.405,"y":0.78},{"d":5.465,"y":0.85},{"d":5.525,"y":0.80},{"d":5.585,"y":0.89},{"d":5.620,"y":1.03},{"d":5.645,"y":0.76},{"d":5.705,"y":0.85},{"d":5.765,"y":0.92},{"d":5.825,"y":0.79},{"d":5.885,"y":0.88},{"d":5.945,"y":0.83},{"d":6.005,"y":0.95},{"d":6.065,"y":0.80},{"d":6.070,"y":0.63},{"d":6.125,"y":0.87},{"d":6.185,"y":0.93},{"d":6.245,"y":0.81},{"d":6.250,"y":0.67},{"d":6.305,"y":0.89},{"d":6.365,"y":0.78},{"d":6.425,"y":0.86},{"d":6.485,"y":0.83},
{"d":4.075,"y":0.68},{"d":4.135,"y":0.65},{"d":4.195,"y":0.62},{"d":4.255,"y":0.70},{"d":4.315,"y":0.66},{"d":4.375,"y":0.69},{"d":4.435,"y":0.72},{"d":4.495,"y":0.66},{"d":4.555,"y":0.70},{"d":4.615,"y":0.71},{"d":4.675,"y":0.67},{"d":4.735,"y":0.74},{"d":4.795,"y":0.70},{"d":4.855,"y":0.77},{"d":4.915,"y":0.74},{"d":4.975,"y":0.79},{"d":5.035,"y":0.76},{"d":5.095,"y":0.80},{"d":5.155,"y":0.82},{"d":5.315,"y":0.79},{"d":5.375,"y":0.84},{"d":5.435,"y":0.88},{"d":5.495,"y":0.79},{"d":5.555,"y":0.86},{"d":5.615,"y":0.82},{"d":5.675,"y":0.90},{"d":5.735,"y":0.81},{"d":5.795,"y":0.95},{"d":5.855,"y":0.85},{"d":5.915,"y":0.80},{"d":5.975,"y":0.92},{"d":6.035,"y":0.86},{"d":6.095,"y":0.97},{"d":6.155,"y":0.83},{"d":6.215,"y":0.90},{"d":6.275,"y":0.96},{"d":6.335,"y":0.84},{"d":6.395,"y":0.92},{"d":6.455,"y":0.87}
],
"bc": [
{"d":1.150,"y":0.41},{"d":1.200,"y":0.44},{"d":1.215,"y":0.55},{"d":1.225,"y":0.50},{"d":1.240,"y":0.65},{"d":1.248,"y":0.73},{"d":1.256,"y":0.65},{"d":1.268,"y":0.48},{"d":1.300,"y":0.44},{"d":1.340,"y":0.45},{"d":1.355,"y":0.50},{"d":1.365,"y":0.80},{"d":1.372,"y":0.96},{"d":1.379,"y":0.80},{"d":1.390,"y":0.50},{"d":1.430,"y":0.44},{"d":1.480,"y":0.47},{"d":1.500,"y":0.48},{"d":1.540,"y":0.46},{"d":1.565,"y":0.58},{"d":1.572,"y":0.88},{"d":1.578,"y":1.00},{"d":1.584,"y":0.85},{"d":1.595,"y":0.52},{"d":1.640,"y":0.47},{"d":1.655,"y":0.60},{"d":1.662,"y":0.98},{"d":1.668,"y":1.32},{"d":1.674,"y":1.06},{"d":1.684,"y":0.58},{"d":1.720,"y":0.46},{"d":1.745,"y":0.55},{"d":1.755,"y":0.92},{"d":1.761,"y":1.08},{"d":1.768,"y":0.85},{"d":1.780,"y":0.52},{"d":1.850,"y":0.47},{"d":1.950,"y":0.48},{"d":2.050,"y":0.50},{"d":2.120,"y":0.52},{"d":2.135,"y":0.66},{"d":2.143,"y":0.73},{"d":2.153,"y":0.66},{"d":2.160,"y":0.95},{"d":2.166,"y":1.70},{"d":2.171,"y":2.50},{"d":2.176,"y":2.25},{"d":2.182,"y":1.30},{"d":2.190,"y":0.70},{"d":2.205,"y":0.53},{"d":2.300,"y":0.51},{"d":2.450,"y":0.52},{"d":2.580,"y":0.55},{"d":2.598,"y":0.82},{"d":2.608,"y":1.12},{"d":2.618,"y":0.90},{"d":2.632,"y":0.58},{"d":2.700,"y":0.54},{"d":2.850,"y":0.56},{"d":3.000,"y":0.58},{"d":3.030,"y":0.68},{"d":3.040,"y":1.50},{"d":3.046,"y":3.10},{"d":3.050,"y":4.30},{"d":3.054,"y":5.00},{"d":3.058,"y":4.10},{"d":3.063,"y":2.60},{"d":3.070,"y":1.30},{"d":3.080,"y":0.72},{"d":3.100,"y":0.61},{"d":3.300,"y":0.60},{"d":3.500,"y":0.61},{"d":3.700,"y":0.62},{"d":3.745,"y":0.72},{"d":3.758,"y":0.98},{"d":3.764,"y":1.07},{"d":3.772,"y":0.94},{"d":3.786,"y":0.68},{"d":3.820,"y":0.63},{"d":4.000,"y":0.64},{"d":4.300,"y":0.67},{"d":4.600,"y":0.70},{"d":4.900,"y":0.75},{"d":5.150,"y":0.79},{"d":5.195,"y":0.92},{"d":5.215,"y":1.12},{"d":5.230,"y":1.05},{"d":5.255,"y":0.85},{"d":5.300,"y":0.81},{"d":5.600,"y":0.83},{"d":6.000,"y":0.85},{"d":6.500,"y":0.87}
],
"bd": [
{"d":1.15,"y":-0.20},{"d":1.18,"y":-0.19},{"d":1.21,"y":-0.21},{"d":1.24,"y":-0.18},{"d":1.27,"y":-0.21},{"d":1.30,"y":-0.19},{"d":1.33,"y":-0.20},{"d":1.36,"y":-0.22},{"d":1.39,"y":-0.18},{"d":1.42,"y":-0.21},{"d":1.45,"y":-0.19},{"d":1.48,"y":-0.20},{"d":1.51,"y":-0.22},{"d":1.54,"y":-0.19},{"d":1.57,"y":-0.21},{"d":1.60,"y":-0.18},{"d":1.63,"y":-0.21},{"d":1.66,"y":-0.18},{"d":1.69,"y":-0.21},{"d":1.72,"y":-0.19},{"d":1.75,"y":-0.22},{"d":1.78,"y":-0.19},{"d":1.81,"y":-0.20},{"d":1.84,"y":-0.22},{"d":1.87,"y":-0.19},{"d":1.90,"y":-0.21},{"d":1.93,"y":-0.19},{"d":1.96,"y":-0.21},{"d":1.99,"y":-0.18},{"d":2.02,"y":-0.21},{"d":2.05,"y":-0.19},{"d":2.08,"y":-0.21},{"d":2.11,"y":-0.19},{"d":2.14,"y":-0.21},{"d":2.165,"y":-0.15},{"d":2.175,"y":-0.27},{"d":2.19,"y":-0.18},{"d":2.22,"y":-0.21},{"d":2.25,"y":-0.19},{"d":2.28,"y":-0.21},{"d":2.31,"y":-0.19},{"d":2.34,"y":-0.22},{"d":2.37,"y":-0.18},{"d":2.40,"y":-0.21},{"d":2.43,"y":-0.19},{"d":2.46,"y":-0.22},{"d":2.49,"y":-0.19},{"d":2.52,"y":-0.21},{"d":2.55,"y":-0.18},{"d":2.58,"y":-0.21},{"d":2.605,"y":-0.13},{"d":2.615,"y":-0.26},{"d":2.64,"y":-0.18},{"d":2.67,"y":-0.21},{"d":2.70,"y":-0.19},{"d":2.73,"y":-0.22},{"d":2.76,"y":-0.18},{"d":2.79,"y":-0.21},{"d":2.82,"y":-0.18},{"d":2.85,"y":-0.22},{"d":2.88,"y":-0.19},{"d":2.91,"y":-0.22},{"d":2.94,"y":-0.18},{"d":2.97,"y":-0.21},{"d":3.00,"y":-0.18},{"d":3.03,"y":-0.22},{"d":3.045,"y":-0.15},{"d":3.055,"y":-0.30},{"d":3.065,"y":-0.16},{"d":3.085,"y":-0.23},{"d":3.10,"y":-0.15},{"d":3.13,"y":-0.22},{"d":3.16,"y":-0.18},{"d":3.19,"y":-0.22},{"d":3.22,"y":-0.17},{"d":3.25,"y":-0.22},{"d":3.28,"y":-0.18},{"d":3.31,"y":-0.23},{"d":3.34,"y":-0.18},{"d":3.37,"y":-0.22},{"d":3.40,"y":-0.17},{"d":3.43,"y":-0.22},{"d":3.46,"y":-0.18},{"d":3.49,"y":-0.23},{"d":3.52,"y":-0.17},{"d":3.55,"y":-0.22},{"d":3.58,"y":-0.17},{"d":3.61,"y":-0.22},{"d":3.64,"y":-0.17},{"d":3.67,"y":-0.23},{"d":3.70,"y":-0.18},{"d":3.73,"y":-0.22},{"d":3.76,"y":-0.16},{"d":3.79,"y":-0.23},{"d":3.82,"y":-0.17},{"d":3.85,"y":-0.22},{"d":3.88,"y":-0.17},{"d":3.91,"y":-0.23},{"d":3.94,"y":-0.18},{"d":3.97,"y":-0.23},{"d":4.00,"y":-0.16},{"d":4.03,"y":-0.23},{"d":4.06,"y":-0.15},{"d":4.09,"y":-0.24},{"d":4.12,"y":-0.16},{"d":4.15,"y":-0.25},{"d":4.18,"y":-0.16},{"d":4.21,"y":-0.24},{"d":4.24,"y":-0.15},{"d":4.27,"y":-0.25},{"d":4.30,"y":-0.16},{"d":4.33,"y":-0.25},{"d":4.36,"y":-0.15},{"d":4.39,"y":-0.24},{"d":4.42,"y":-0.15},{"d":4.45,"y":-0.25},{"d":4.48,"y":-0.13},{"d":4.51,"y":-0.24},{"d":4.54,"y":-0.15},{"d":4.57,"y":-0.27},{"d":4.60,"y":-0.15},{"d":4.63,"y":-0.25},{"d":4.66,"y":-0.13},{"d":4.69,"y":-0.26},{"d":4.72,"y":-0.13},{"d":4.75,"y":-0.27},{"d":4.78,"y":-0.15},{"d":4.81,"y":-0.28},{"d":4.84,"y":-0.13},{"d":4.87,"y":-0.26},{"d":4.90,"y":-0.12},{"d":4.93,"y":-0.27},{"d":4.96,"y":-0.13},{"d":4.99,"y":-0.28},{"d":5.02,"y":-0.12},{"d":5.05,"y":-0.27},{"d":5.08,"y":-0.13},{"d":5.11,"y":-0.30},{"d":5.14,"y":-0.11},{"d":5.17,"y":-0.27},{"d":5.20,"y":-0.10},{"d":5.23,"y":-0.31},{"d":5.26,"y":-0.11},{"d":5.29,"y":-0.29},{"d":5.32,"y":-0.08},{"d":5.35,"y":-0.29},{"d":5.38,"y":-0.10},{"d":5.41,"y":-0.31},{"d":5.44,"y":-0.11},{"d":5.47,"y":-0.30},{"d":5.50,"y":-0.07},{"d":5.53,"y":-0.29},{"d":5.56,"y":-0.10},{"d":5.59,"y":-0.32},{"d":5.62,"y":-0.02},{"d":5.65,"y":-0.30},{"d":5.68,"y":-0.08},{"d":5.71,"y":-0.33},{"d":5.74,"y":-0.10},{"d":5.77,"y":-0.29},{"d":5.80,"y":-0.07},{"d":5.83,"y":-0.32},{"d":5.86,"y":-0.09},{"d":5.89,"y":-0.33},{"d":5.92,"y":-0.08},{"d":5.95,"y":-0.30},{"d":5.98,"y":-0.06},{"d":6.01,"y":-0.32},{"d":6.04,"y":-0.09},{"d":6.07,"y":-0.35},{"d":6.10,"y":-0.08},{"d":6.13,"y":-0.31},{"d":6.16,"y":-0.07},{"d":6.19,"y":-0.36},{"d":6.22,"y":-0.08},{"d":6.25,"y":-0.32},{"d":6.28,"y":-0.06},{"d":6.31,"y":-0.34},{"d":6.34,"y":-0.08},{"d":6.37,"y":-0.35},{"d":6.40,"y":-0.07},{"d":6.43,"y":-0.36},{"d":6.46,"y":-0.09},{"d":6.475,"y":0.14},{"d":6.49,"y":-0.37},{"d":6.50,"y":-0.15},
{"d":4.015,"y":-0.21},{"d":4.045,"y":-0.18},{"d":4.075,"y":-0.22},{"d":4.105,"y":-0.19},{"d":4.135,"y":-0.17},{"d":4.165,"y":-0.23},{"d":4.195,"y":-0.20},{"d":4.225,"y":-0.18},{"d":4.255,"y":-0.22},{"d":4.285,"y":-0.19},{"d":4.315,"y":-0.23},{"d":4.345,"y":-0.17},{"d":4.375,"y":-0.21},{"d":4.405,"y":-0.19},{"d":4.435,"y":-0.24},{"d":4.465,"y":-0.18},{"d":4.495,"y":-0.21},{"d":4.525,"y":-0.16},{"d":4.555,"y":-0.22},{"d":4.585,"y":-0.19},{"d":4.615,"y":-0.24},{"d":4.645,"y":-0.17},{"d":4.675,"y":-0.21},{"d":4.705,"y":-0.18},{"d":4.735,"y":-0.24},{"d":4.765,"y":-0.19},{"d":4.795,"y":-0.16},{"d":4.825,"y":-0.23},{"d":4.855,"y":-0.19},{"d":4.885,"y":-0.25},{"d":4.915,"y":-0.17},{"d":4.945,"y":-0.21},{"d":4.975,"y":-0.16},{"d":5.005,"y":-0.24},{"d":5.035,"y":-0.19},{"d":5.065,"y":-0.15},{"d":5.095,"y":-0.23},{"d":5.125,"y":-0.18},{"d":5.155,"y":-0.25},{"d":5.185,"y":-0.16},{"d":5.215,"y":-0.22},{"d":5.245,"y":-0.17},{"d":5.275,"y":-0.25},{"d":5.305,"y":-0.14},{"d":5.335,"y":-0.22},{"d":5.365,"y":-0.18},{"d":5.395,"y":-0.26},{"d":5.425,"y":-0.15},{"d":5.455,"y":-0.21},{"d":5.485,"y":-0.17},{"d":5.515,"y":-0.26},{"d":5.545,"y":-0.14},{"d":5.575,"y":-0.22},{"d":5.605,"y":-0.18},{"d":5.635,"y":-0.27},{"d":5.665,"y":-0.15},{"d":5.695,"y":-0.23},{"d":5.725,"y":-0.16},{"d":5.755,"y":-0.27},{"d":5.785,"y":-0.14},{"d":5.815,"y":-0.21},{"d":5.845,"y":-0.17},{"d":5.875,"y":-0.28},{"d":5.905,"y":-0.15},{"d":5.935,"y":-0.22},{"d":5.965,"y":-0.13},{"d":5.995,"y":-0.26},{"d":6.025,"y":-0.16},{"d":6.055,"y":-0.23},{"d":6.085,"y":-0.14},{"d":6.115,"y":-0.27},{"d":6.145,"y":-0.17},{"d":6.175,"y":-0.22},{"d":6.205,"y":-0.13},{"d":6.235,"y":-0.28},{"d":6.265,"y":-0.16},{"d":6.295,"y":-0.24},{"d":6.325,"y":-0.14},{"d":6.355,"y":-0.27},{"d":6.385,"y":-0.17},{"d":6.415,"y":-0.23},{"d":6.445,"y":-0.12}
],
"bt": [
{"d":1.216},{"d":1.229},{"d":1.241},{"d":1.254},{"d":1.279},{"d":1.317},{"d":1.362},{"d":1.380},{"d":1.425},{"d":1.530},{"d":1.571},{"d":1.668},{"d":1.744},{"d":1.769},{"d":1.879},{"d":2.005},{"d":2.138},{"d":2.171},{"d":2.610},{"d":3.055},{"d":3.770},{"d":5.220}
]
},
"vconcat": [
{
 "width": 769, "height": 500,
 "view": {"stroke": "#333333", "strokeWidth": 1.5},
 "resolve": {"axis": {"x": "independent", "y": "independent"}},
 "layer": [
  {"data": {"name": "sd"}, "mark": {"type": "line", "color": "#a040a0", "strokeWidth": 1},
   "encoding": {
    "x": {"field": "d", "type": "quantitative", "scale": {"domain": [0.416, 6.732], "nice": false, "zero": false}, "axis": null},
    "y": {"field": "y", "type": "quantitative", "scale": {"domain": [-1.265, 5.476], "nice": false, "zero": false}, "axis": null}}},
  {"data": {"values": [{}]}, "mark": {"type": "rule", "color": "#111111", "strokeWidth": 1.4},
   "encoding": {
    "x": {"datum": 0.65, "type": "quantitative", "scale": {"domain": [0.416, 6.732], "nice": false, "zero": false}, "axis": null},
    "x2": {"datum": 6.51},
    "y": {"datum": -0.46, "type": "quantitative", "scale": {"domain": [-1.265, 5.476], "nice": false, "zero": false}, "axis": null}}},
  {"data": {"name": "so"}, "mark": {"type": "point", "shape": "M-1,0L1,0M0,-1L0,1", "filled": false, "color": "#e23a26", "size": 64, "strokeWidth": 1.4, "opacity": 1},
   "encoding": {
    "x": {"field": "d", "type": "quantitative", "scale": {"domain": [0.416, 6.732], "nice": false, "zero": false},
      "axis": {"orient": "bottom", "values": [1, 2, 3, 4, 5, 6], "labelExpr": "replace(format(datum.value, '.1f'), '\u2212', '-')", "offset": -13, "tickSize": 13, "labelPadding": 9, "labelFontSize": 19, "title": "d spacing (Å)", "titleFont": "Liberation Serif", "titleFontSize": 38, "titlePadding": 19, "titleX": 375, "titleAlign": "center"}},
    "y": {"field": "y", "type": "quantitative", "scale": {"domain": [-1.265, 5.476], "nice": false, "zero": false},
      "axis": {"orient": "left", "values": [-1, 0, 1, 2, 3, 4, 5], "labelExpr": "replace(format(datum.value, '.1f'), '\u2212', '-')", "labelAngle": -90, "offset": -13, "tickSize": 13, "labelPadding": 8, "labelFontSize": 20, "title": "Norm. count/musec", "titleFont": "Liberation Mono", "titleFontSize": 29, "titlePadding": 19}}
   }},
  {"data": {"name": "sc"}, "mark": {"type": "line", "color": "#55b840", "strokeWidth": 1.5, "opacity": 0.9},
   "encoding": {
    "x": {"field": "d", "type": "quantitative", "scale": {"domain": [0.416, 6.732], "nice": false, "zero": false},
      "axis": {"orient": "top", "values": [1, 2, 3, 4, 5, 6], "labels": false, "offset": -13, "tickSize": 13, "title": null}},
    "y": {"field": "y", "type": "quantitative", "scale": {"domain": [-1.265, 5.476], "nice": false, "zero": false},
      "axis": {"orient": "right", "values": [-1, 0, 1, 2, 3, 4, 5], "labels": false, "offset": -13, "tickSize": 13, "title": null}}
   }},
  {"data": {"name": "st1"}, "mark": {"type": "tick", "orient": "vertical", "color": "#d84040", "size": 7, "thickness": 1.3},
   "encoding": {
    "x": {"field": "d", "type": "quantitative", "scale": {"domain": [0.416, 6.732], "nice": false, "zero": false}, "axis": null},
    "y": {"datum": 0.13, "type": "quantitative", "scale": {"domain": [-1.265, 5.476], "nice": false, "zero": false}, "axis": null}}},
  {"data": {"name": "st2"}, "mark": {"type": "tick", "orient": "vertical", "color": "#111111", "size": 7, "thickness": 1.3},
   "encoding": {
    "x": {"field": "d", "type": "quantitative", "scale": {"domain": [0.416, 6.732], "nice": false, "zero": false}, "axis": null},
    "y": {"datum": 0.01, "type": "quantitative", "scale": {"domain": [-1.265, 5.476], "nice": false, "zero": false}, "axis": null}}},
  {"data": {"values": [{}]}, "mark": {"type": "text", "text": "SrAlGeH", "font": "Liberation Serif", "fontSize": 37, "align": "left", "baseline": "alphabetic", "color": "#222222"},
   "encoding": {
    "x": {"datum": 5.03, "type": "quantitative", "scale": {"domain": [0.416, 6.732], "nice": false, "zero": false}, "axis": null},
    "y": {"datum": 4.41, "type": "quantitative", "scale": {"domain": [-1.265, 5.476], "nice": false, "zero": false}, "axis": null}}}
 ]
},
{
 "width": 769, "height": 499,
 "view": {"stroke": "#999999", "strokeWidth": 1.2},
 "resolve": {"axis": {"x": "independent", "y": "independent"}},
 "layer": [
  {"data": {"name": "bd"}, "mark": {"type": "line", "color": "#8e4a9c", "strokeWidth": 1},
   "encoding": {
    "x": {"field": "d", "type": "quantitative", "scale": {"domain": [0.937, 6.723], "nice": false, "zero": false}, "axis": null},
    "y": {"field": "y", "type": "quantitative", "scale": {"domain": [-0.986, 5.40], "nice": false, "zero": false}, "axis": null}}},
  {"data": {"name": "bo"}, "mark": {"type": "point", "shape": "M-1,0L1,0M0,-1L0,1", "filled": false, "color": "#dc3a26", "size": 56, "strokeWidth": 1.3, "opacity": 1},
   "encoding": {
    "x": {"field": "d", "type": "quantitative", "scale": {"domain": [0.937, 6.723], "nice": false, "zero": false},
      "axis": {"orient": "bottom", "values": [2, 3, 4, 5, 6], "labelExpr": "replace(format(datum.value, '.1f'), '\u2212', '-')", "offset": -13, "tickSize": 13, "tickColor": "#777", "labelPadding": 9, "labelFontSize": 19, "labelColor": "#444", "title": "d spacing (Å)", "titleFont": "Liberation Serif", "titleFontSize": 38, "titlePadding": 19, "titleX": 375, "titleAlign": "center"}},
    "y": {"field": "y", "type": "quantitative", "scale": {"domain": [-0.986, 5.40], "nice": false, "zero": false},
      "axis": {"orient": "left", "values": [0, 1, 2, 3, 4, 5], "labelExpr": "replace(format(datum.value, '.1f'), '\u2212', '-')", "labelAngle": -90, "offset": -13, "tickSize": 13, "tickColor": "#777", "labelPadding": 8, "labelFontSize": 20, "labelColor": "#444", "title": "Norm. count/musec", "titleFont": "Liberation Mono", "titleFontSize": 29, "titlePadding": 19}}
   }},
  {"data": {"name": "bc"}, "mark": {"type": "line", "color": "#78c070", "strokeWidth": 1, "opacity": 0.9},
   "encoding": {
    "x": {"field": "d", "type": "quantitative", "scale": {"domain": [0.937, 6.723], "nice": false, "zero": false},
      "axis": {"orient": "top", "values": [2, 3, 4, 5, 6], "labels": false, "offset": -13, "tickSize": 13, "tickColor": "#777", "title": null}},
    "y": {"field": "y", "type": "quantitative", "scale": {"domain": [-0.986, 5.40], "nice": false, "zero": false},
      "axis": {"orient": "right", "values": [0, 1, 2, 3, 4, 5], "labels": false, "offset": -13, "tickSize": 13, "tickColor": "#777", "title": null}}
   }},
  {"data": {"name": "bt"}, "mark": {"type": "tick", "orient": "vertical", "color": "#555555", "size": 8, "thickness": 1},
   "encoding": {
    "x": {"field": "d", "type": "quantitative", "scale": {"domain": [0.937, 6.723], "nice": false, "zero": false}, "axis": null},
    "y": {"datum": 0.27, "type": "quantitative", "scale": {"domain": [-0.986, 5.40], "nice": false, "zero": false}, "axis": null}}},
  {"data": {"values": [{}]}, "mark": {"type": "text", "text": "BaAlGeH", "font": "Liberation Serif", "fontSize": 37, "align": "left", "baseline": "alphabetic", "color": "#222222"},
   "encoding": {
    "x": {"datum": 5.17, "type": "quantitative", "scale": {"domain": [0.937, 6.723], "nice": false, "zero": false}, "axis": null},
    "y": {"datum": 4.39, "type": "quantitative", "scale": {"domain": [-0.986, 5.40], "nice": false, "zero": false}, "axis": null}}}
 ]
}
]
}
